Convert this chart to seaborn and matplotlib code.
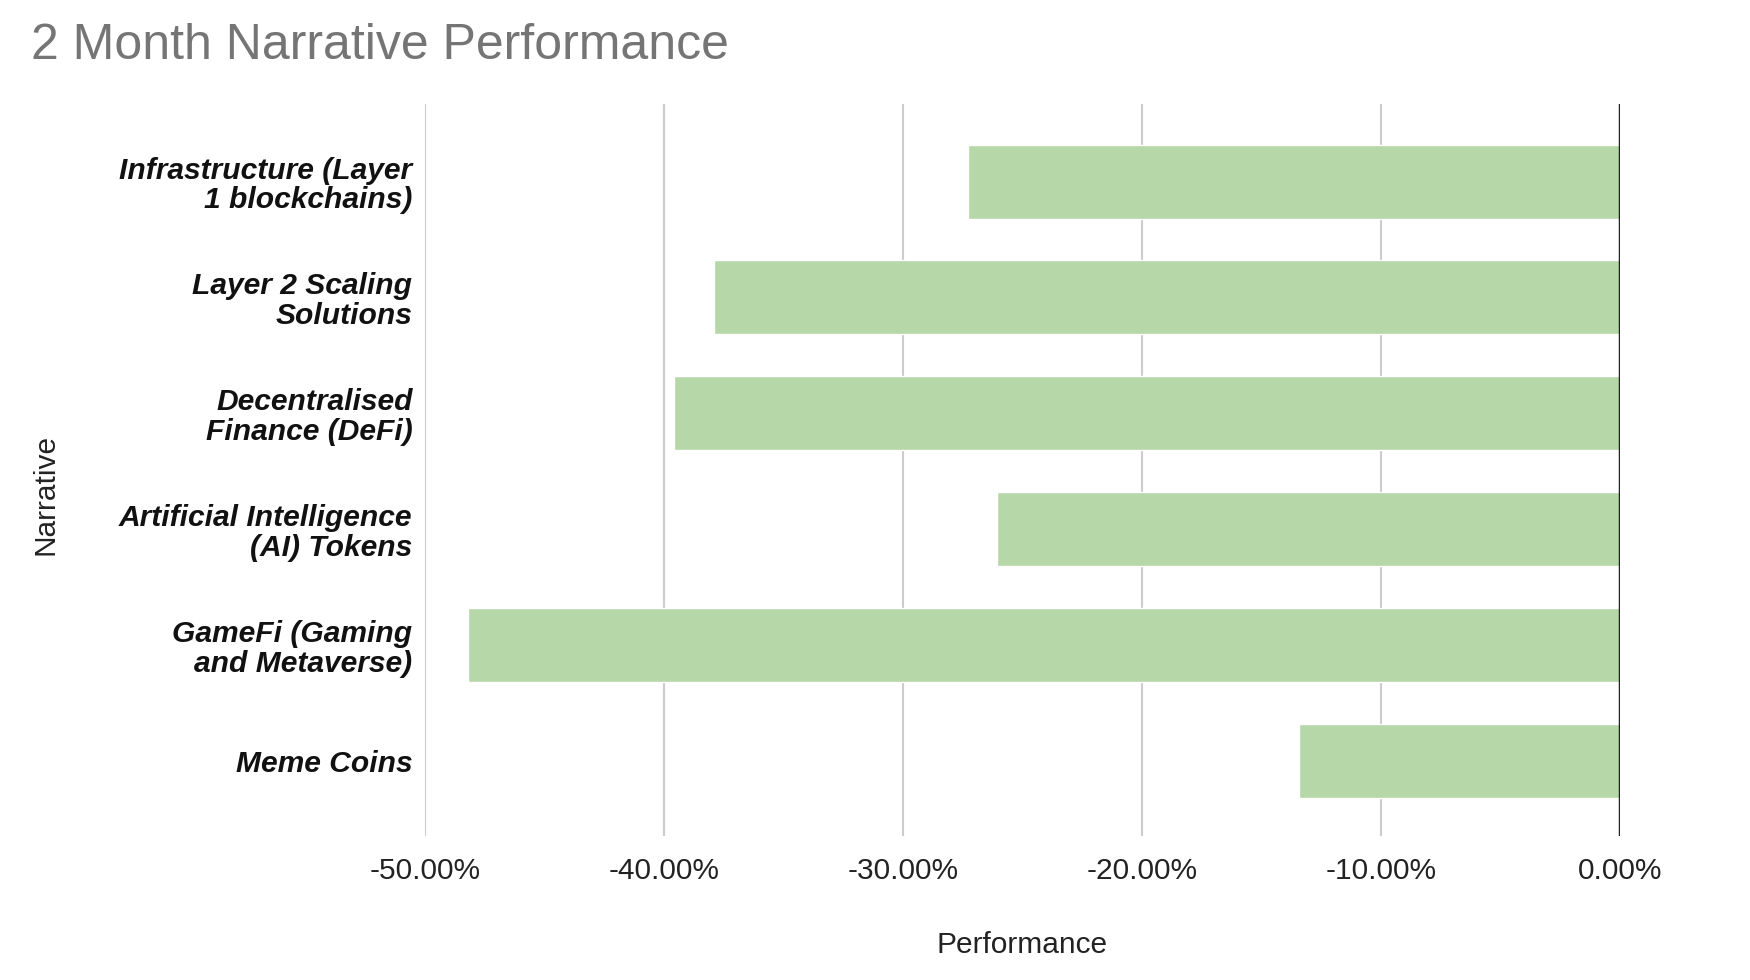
import matplotlib
matplotlib.use("Agg")
import matplotlib.pyplot as plt
import seaborn as sns
import pandas as pd
from matplotlib.ticker import FuncFormatter

categories = [
    "Infrastructure (Layer\n1 blockchains)",
    "Layer 2 Scaling\nSolutions",
    "Decentralised\nFinance (DeFi)",
    "Artificial Intelligence\n(AI) Tokens",
    "GameFi (Gaming\nand Metaverse)",
    "Meme Coins",
]
performance = [-27.3, -37.9, -39.6, -26.05, -48.2, -13.45]
x_ticks = [-50, -40, -30, -20, -10, 0]

sns.set_theme(style="white")
plt.rcParams["font.family"] = ["Liberation Sans", "DejaVu Sans"]

df = pd.DataFrame({"Narrative": categories, "Performance": performance})

fig = plt.figure(figsize=(17.5, 9.8), dpi=100)
ax = fig.add_axes([425 / 1750, 1 - 836 / 980, 1195 / 1750, 732 / 980])

sns.barplot(data=df, x="Performance", y="Narrative", orient="h",
            color="#b6d7a8", width=0.64, saturation=1, ax=ax, zorder=2)

ax.set_xlim(-50, 0)
ax.set_ylim(5.65, -0.67)
ax.set_xticks(x_ticks)
ax.xaxis.set_major_formatter(FuncFormatter(lambda v, p: f"{v:.2f}%"))
for t in x_ticks:
    if t == 0:
        ax.axvline(t, color="#222222", lw=2.5, zorder=3)
    else:
        ax.axvline(t, color="#cccccc", lw=1.5, zorder=1)
for s in ax.spines.values():
    s.set_visible(False)
ax.tick_params(axis="x", length=0, pad=15, labelsize=21.5, labelcolor="#222222")
ax.tick_params(axis="y", length=0, pad=9)
for lbl in ax.get_yticklabels():
    lbl.set_fontsize(21.6)
    lbl.set_fontweight("bold")
    lbl.set_fontstyle("italic")
    lbl.set_color("#111111")
    lbl.set_linespacing(1.08)

ax.set_xlabel("")
ax.set_ylabel("")
fig.text(1022 / 1750, 1 - 945 / 980, "Performance", ha="center", va="center",
         fontsize=21.5, color="#222222")
fig.text(45 / 1750, 1 - 494 / 980, "Narrative", ha="center", va="center",
         rotation=90, fontsize=21.5, color="#222222")
fig.text(31 / 1750, 1 - 46 / 980, "2 Month Narrative Performance", ha="left",
         va="center", fontsize=36, color="#757575")

fig.savefig("out.png", dpi=100, facecolor="white")
